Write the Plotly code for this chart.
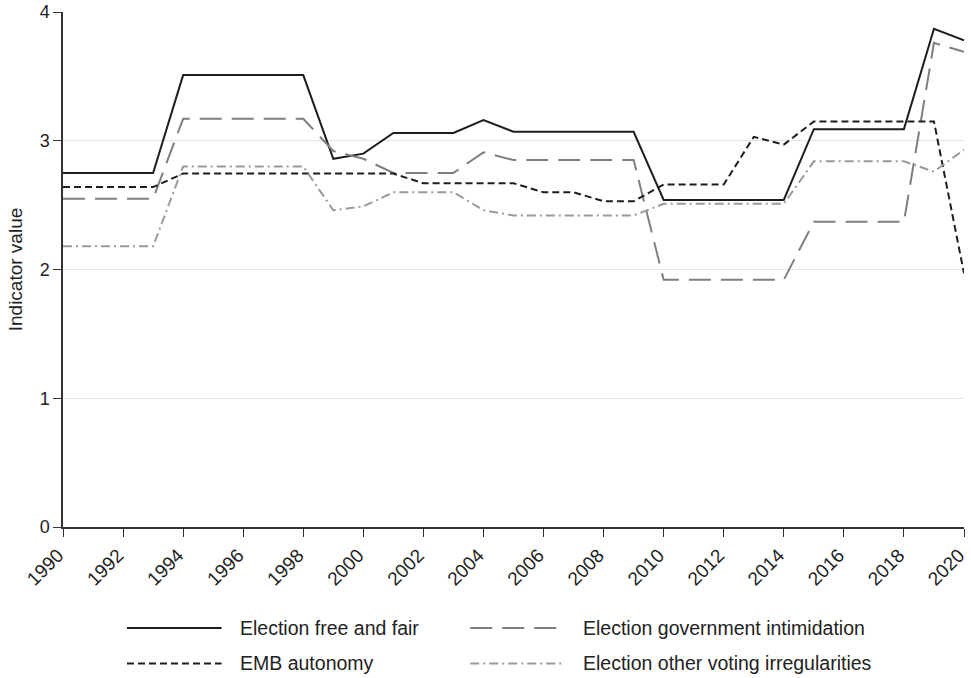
import plotly.graph_objects as go

years = list(range(1990, 2021))

free_fair = [2.75, 2.75, 2.75, 2.75,
             3.51, 3.51, 3.51, 3.51, 3.51,
             2.86, 2.90, 3.06, 3.06, 3.06, 3.16,
             3.07, 3.07, 3.07, 3.07, 3.07,
             2.54, 2.54, 2.54, 2.54, 2.54,
             3.09, 3.09, 3.09, 3.09, 3.87, 3.78]

gov_intimidation = [2.55, 2.55, 2.55, 2.55,
                    3.17, 3.17, 3.17, 3.17, 3.17,
                    2.92, 2.86, 2.75, 2.75, 2.75, 2.91,
                    2.85, 2.85, 2.85, 2.85, 2.85,
                    1.92, 1.92, 1.92, 1.92, 1.92,
                    2.37, 2.37, 2.37, 2.37, 3.76, 3.69]

emb_autonomy = [2.64, 2.64, 2.64, 2.64,
                2.745, 2.745, 2.745, 2.745, 2.745, 2.745, 2.745, 2.745,
                2.67, 2.67, 2.67, 2.67,
                2.60, 2.60, 2.53, 2.53,
                2.66, 2.66, 2.66, 3.03, 2.97,
                3.15, 3.15, 3.15, 3.15, 3.15, 1.97]

other_irregularities = [2.18, 2.18, 2.18, 2.18,
                        2.80, 2.80, 2.80, 2.80, 2.80,
                        2.46, 2.49, 2.60, 2.60, 2.60, 2.46,
                        2.42, 2.42, 2.42, 2.42, 2.42,
                        2.51, 2.51, 2.51, 2.51, 2.51,
                        2.84, 2.84, 2.84, 2.84, 2.76, 2.93]

series = [
    ("Election free and fair", free_fair, "#1e1e1e", "solid"),
    ("Election government intimidation", gov_intimidation, "#7f7f7f", "22px,10px"),
    ("EMB autonomy", emb_autonomy, "#1e1e1e", "7px,4px"),
    ("Election other voting irregularities", other_irregularities, "#9a9a9a", "9px,4px,2px,4px"),
]

FONT = "Liberation Sans, Arial, Helvetica, sans-serif"

fig = go.Figure()
for name, vals, color, dash in series:
    fig.add_trace(go.Scatter(x=years, y=vals, mode="lines", name=name,
                             line=dict(color=color, width=2, dash=dash),
                             showlegend=False))

# Legend drawn below the plot: two columns, two rows
legend_items = [
    (series[0], 0.071, -0.196),
    (series[1], 0.452, -0.196),
    (series[2], 0.071, -0.265),
    (series[3], 0.452, -0.265),
]
for (name, _, color, dash), x0, y in legend_items:
    fig.add_shape(type="line", xref="paper", yref="paper",
                  x0=x0, x1=x0 + 0.105, y0=y, y1=y,
                  line=dict(color=color, width=2, dash=dash))
    fig.add_annotation(xref="paper", yref="paper", x=x0 + 0.123, y=y,
                       text=name, showarrow=False, xanchor="left", yanchor="middle",
                       font=dict(size=19.5, color="#222", family=FONT))

fig.update_layout(
    width=971, height=678,
    margin=dict(l=63, r=7, t=12, b=151),
    paper_bgcolor="white", plot_bgcolor="white",
    font=dict(family=FONT, size=18, color="#222"),
)
fig.update_xaxes(range=[1990, 2020], tickmode="array",
                 tickvals=list(range(1990, 2021, 2)),
                 tickangle=-45, ticks="outside", ticklen=8, tickcolor="#333",
                 ticklabeloverflow="allow", automargin=False, ticklabelshift=-5,
                 showline=True, linecolor="#333", linewidth=1.5,
                 showgrid=False, zeroline=False,
                 tickfont=dict(size=19, family=FONT, color="#222"))
fig.update_yaxes(range=[0, 4], tickvals=[0, 1, 2, 3, 4],
                 ticks="outside", ticklen=8, tickcolor="#333", automargin=False,
                 showline=True, linecolor="#333", linewidth=1.5,
                 showgrid=True, gridcolor="#e3e3e3", gridwidth=1, zeroline=False,
                 title=dict(text="Indicator value", standoff=12,
                            font=dict(size=19, family=FONT, color="#222")),
                 tickfont=dict(size=18, family=FONT, color="#222"))

fig.write_html("out.html")
